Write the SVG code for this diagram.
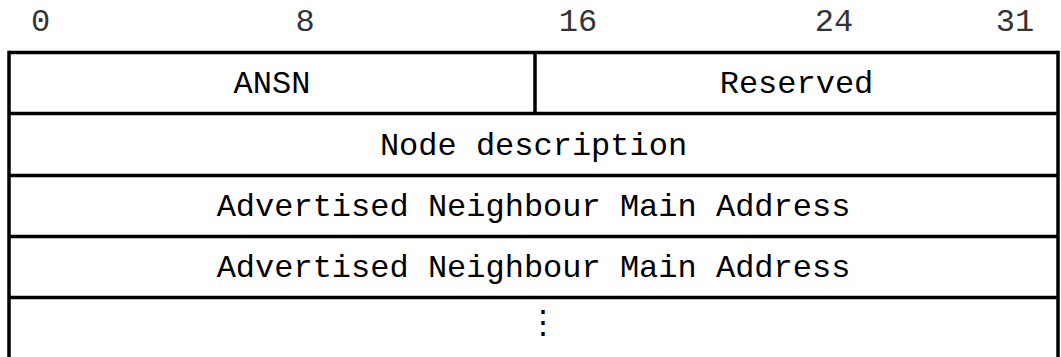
<svg xmlns="http://www.w3.org/2000/svg" width="1061" height="357" viewBox="0 0 1061 357">
  <style>
    .t { font-family: "Liberation Mono", "Courier New", monospace; font-size: 32px; fill: #000; text-anchor: middle; }
    .h { font-family: "Liberation Mono", "Courier New", monospace; font-size: 32px; fill: #333; text-anchor: middle; }
    .b { stroke: #000; stroke-width: 3.5; fill: none; }
  </style>
  <rect width="1061" height="357" fill="#fff"/>

  <!-- bit offsets -->
  <g id="ruler">
    <text class="h" x="40.5" y="31">0</text>
    <text class="h" x="305" y="31">8</text>
    <text class="h" x="578" y="31">16</text>
    <text class="h" x="834" y="31">24</text>
    <text class="h" x="1015" y="31">31</text>
  </g>

  <!-- field borders -->
  <g id="borders">
    <line class="b" x1="9" y1="52.5" x2="1058" y2="52.5"/>
    <line class="b" x1="9" y1="113.5" x2="1058" y2="113.5"/>
    <line class="b" x1="9" y1="175.5" x2="1058" y2="175.5"/>
    <line class="b" x1="9" y1="236.5" x2="1058" y2="236.5"/>
    <line class="b" x1="9" y1="297.5" x2="1058" y2="297.5"/>
    <line class="b" x1="9" y1="50.75" x2="9" y2="357"/>
    <line class="b" x1="1058" y1="50.75" x2="1058" y2="357"/>
    <line class="b" x1="535" y1="52.5" x2="535" y2="113.5"/>
  </g>

  <g id="ansn"><text class="t" x="272" y="93">ANSN</text></g>
  <g id="reserved"><text class="t" x="796.5" y="93">Reserved</text></g>
  <g id="node-description"><text class="t" x="533.5" y="155">Node description</text></g>
  <g id="neighbour-1"><text class="t" x="533.5" y="216">Advertised Neighbour Main Address</text></g>
  <g id="neighbour-2"><text class="t" x="533.5" y="277">Advertised Neighbour Main Address</text></g>
  <g id="more"><text class="t" x="543" y="333" style="font-family: 'DejaVu Sans Mono', monospace;">⋮</text></g>
</svg>
